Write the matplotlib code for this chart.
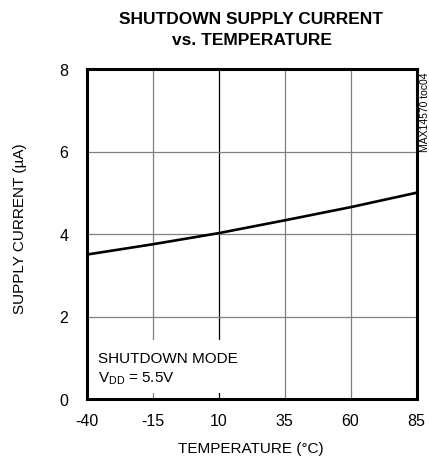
import matplotlib
matplotlib.use("Agg")
import matplotlib.pyplot as plt
from matplotlib.patches import Rectangle

plt.rcParams['font.family'] = ['Liberation Sans', 'DejaVu Sans']
plt.rcParams['axes.unicode_minus'] = False

temps = [-40, -15, 10, 35, 60, 85]
current = [3.5, 3.75, 4.02, 4.33, 4.65, 5.0]
xticks = [-40, -15, 10, 35, 60, 85]
yticks = [0, 2, 4, 6, 8]

W, H = 429, 464
fig = plt.figure(figsize=(W / 100, H / 100), dpi=100)
ax = fig.add_axes([86.5 / W, 1 - 400 / H, 330 / W, 330 / H])

for x in xticks[1:-1]:
    ax.axvline(x, color='black' if x == 10 else '#808080', lw=0.9, zorder=1)
for y in yticks[1:-1]:
    ax.axhline(y, color='#808080', lw=0.9, zorder=1)

ax.plot(temps, current, color='black', lw=1.9, zorder=3)

# white patch behind the note, breaks the grid like the original
ax.add_patch(Rectangle((0, 0.018), 0.425, 0.162, transform=ax.transAxes,
                       facecolor='white', edgecolor='none', zorder=2))
ax.text(0.035, 0.112, 'SHUTDOWN MODE', transform=ax.transAxes,
        fontsize=11, va='baseline', ha='left', zorder=4)
ax.text(0.035, 0.0515, '$\\mathregular{V_{DD}}$ = 5.5V', transform=ax.transAxes,
        fontsize=11, va='baseline', ha='left', zorder=4)

ax.set_xlim(-40, 85)
ax.set_ylim(0, 8)
ax.set_xticks(xticks)
ax.set_yticks(yticks)
ax.tick_params(length=0, labelsize=11.5)
ax.tick_params(axis='x', pad=10)
ax.tick_params(axis='y', pad=13)
for s in ax.spines.values():
    s.set_linewidth(2.2)
    s.set_zorder(5)

ax.set_xlabel('TEMPERATURE (°C)', fontsize=11)
ax.set_ylabel('SUPPLY CURRENT (µA)', fontsize=11)
ax.xaxis.label.set_va('center')
ax.yaxis.label.set_va('center')
ax.xaxis.set_label_coords(0.497, -0.15)
ax.yaxis.set_label_coords(-0.2015, 0.518)

fig.text(251.5 / W, 1 - 30 / H, 'SHUTDOWN SUPPLY CURRENT\nvs. TEMPERATURE',
         fontsize=12.5, fontweight='bold', ha='center', va='center',
         multialignment='center', linespacing=1.45)

fig.text(425 / W, 1 - 72 / H, 'MAX14570 toc04', rotation=90, fontsize=7.5,
         ha='center', va='top')

fig.savefig('out.png', dpi=100)
